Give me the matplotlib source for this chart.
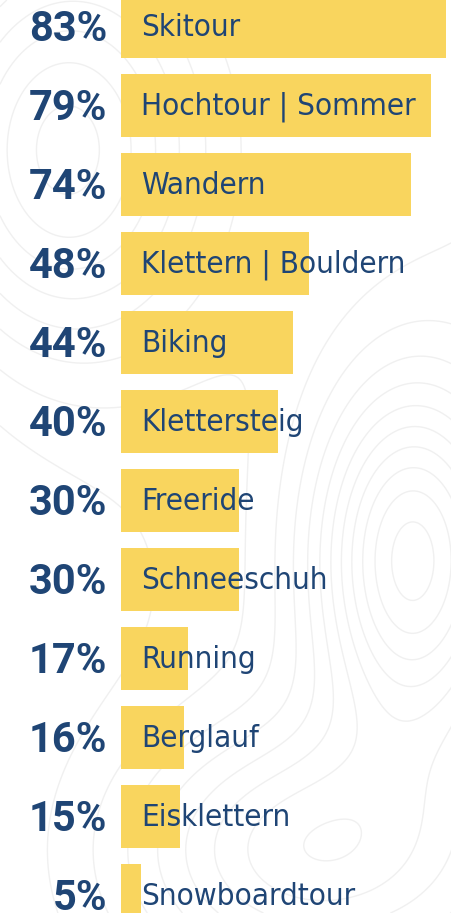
import numpy as np
import matplotlib.pyplot as plt
from matplotlib import font_manager

# Sportarten und Anteile
kategorien = ['Skitour', 'Hochtour | Sommer', 'Wandern', 'Klettern | Bouldern',
              'Biking', 'Klettersteig', 'Freeride', 'Schneeschuh', 'Running',
              'Berglauf', 'Eisklettern', 'Snowboardtour']
anteile = [83, 79, 74, 48, 44, 40, 30, 30, 17, 16, 15, 5]

gelb = '#F9D55E'
blau = '#1F4575'

# schmale Schrift, falls vorhanden
schmal = [f for f in font_manager.fontManager.ttflist
          if f.name == 'DejaVu Sans' and f.stretch == 'condensed'
          and f.weight == 400 and f.style == 'normal']
schmal_pfad = schmal[0].fname if schmal else None

fig = plt.figure(figsize=(4.52, 9.13), dpi=100)

# Hintergrund: dezente Höhenlinien
bg = fig.add_axes([0, 0, 1, 1])
gx, gy = np.meshgrid(np.linspace(0, 452, 300), np.linspace(0, 913, 600))
z = (np.exp(-((gx - 410) ** 2 / 9000 + (gy - 560) ** 2 / 30000))
     + 0.8 * np.exp(-((gx - 60) ** 2 / 20000 + (gy - 150) ** 2 / 40000))
     + 0.6 * np.exp(-((gx - 300) ** 2 / 30000 + (gy - 850) ** 2 / 15000))
     + 0.0006 * gx)
bg.contour(gx, gy, z, levels=12, colors='#F0F0F0', linewidths=1.0)
bg.set_xlim(0, 452)
bg.set_ylim(913, 0)
bg.axis('off')

# Balken
ax = fig.add_axes([121 / 452, 0, 1 - 121 / 452, 1])
ax.patch.set_alpha(0)
y = np.arange(len(kategorien))
ax.barh(y, anteile, height=0.8, color=gelb)
ax.set_xlim(0, (452 - 121) / 3.92)
ax.set_ylim((913 - 26.5) / 79, -26.5 / 79)
ax.axis('off')

for i, (k, a) in enumerate(zip(kategorien, anteile)):
    if schmal_pfad:
        fp = font_manager.FontProperties(fname=schmal_pfad, size=22.5)
    else:
        fp = font_manager.FontProperties(family='DejaVu Sans', size=20)
    ax.text(5.1, i + 0.01, k, ha='left', va='center', color=blau,
            fontproperties=fp)
    ax.annotate(f'{a}%', xy=(0, i + 0.04), xytext=(-10, 0),
                textcoords='offset points', ha='right', va='center',
                color=blau, fontsize=30, fontweight='bold',
                family=['Roboto', 'DejaVu Sans'])

fig.savefig('out.png', dpi=100)
